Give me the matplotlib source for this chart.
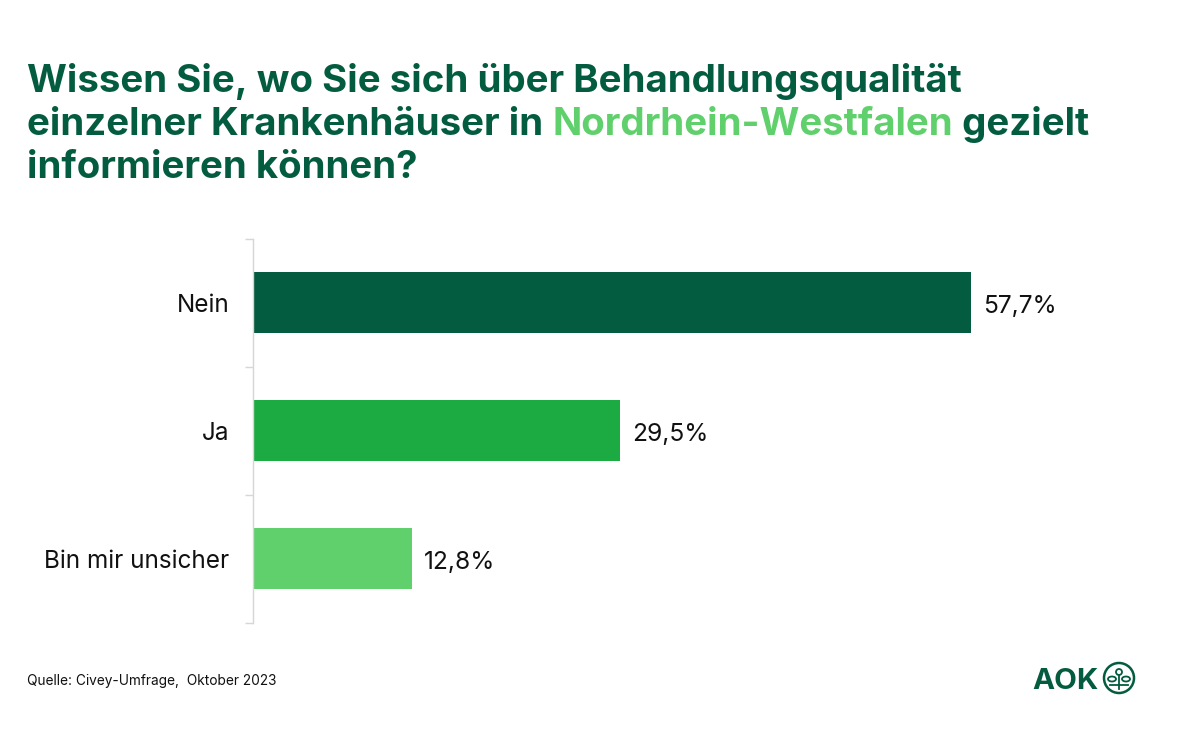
import matplotlib
matplotlib.use("Agg")
import matplotlib.pyplot as plt
from matplotlib.patches import Circle, Ellipse

categories = ["Nein", "Ja", "Bin mir unsicher"]
values = [57.7, 29.5, 12.8]
value_labels = ["57,7%", "29,5%", "12,8%"]
bar_colors = ["#035c3f", "#1cab42", "#5fd06b"]
dark = "#035c3f"
light = "#5fd06b"
title_lines = [
    [("Wissen Sie, wo Sie sich über Behandlungsqualität", dark)],
    [("einzelner Krankenhäuser in ", dark), ("Nordrhein-Westfalen", light), (" gezielt", dark)],
    [("informieren können?", dark)],
]
source = "Quelle: Civey-Umfrage,  Oktober 2023"

plt.rcParams["font.family"] = ["Inter", "DejaVu Sans"]
W, H = 1200, 749
fig = plt.figure(figsize=(W / 100, H / 100), dpi=100)

ax = fig.add_axes([253 / W, 1 - 622.5 / H, 720 / W, 384 / H])
ax.barh(range(len(categories)), values, height=0.47, color=bar_colors)
ax.set_ylim(len(categories) - 0.5, -0.5)
ax.set_xlim(0, 720 / 12.44)
for i, v in enumerate(values):
    ax.annotate(value_labels[i], (v, i), xytext=(12, -4), textcoords="offset pixels",
                va="center", ha="left", fontsize=17.7, color="#111111")
for s in ["top", "right", "bottom"]:
    ax.spines[s].set_visible(False)
ax.spines["left"].set_color("#d6d6d6")
ax.spines["left"].set_linewidth(1)
ax.set_xticks([])
ax.set_yticks(range(len(categories)))
ax.set_yticklabels(categories, fontsize=17.5, color="#111111")
ax.tick_params(axis="y", which="major", length=0, pad=17)
ax.set_yticks([i - 0.5 for i in range(len(categories) + 1)], minor=True)
ax.tick_params(axis="y", which="minor", length=6, color="#d6d6d6", width=1)

# overlay in pixel coordinates for title, source and logo
ov = fig.add_axes([0, 0, 1, 1])
ov.set_xlim(0, W)
ov.set_ylim(H, 0)
ov.axis("off")
ov.patch.set_alpha(0)

renderer = fig.canvas.get_renderer()
baselines = [92, 135, 178]
for parts, y in zip(title_lines, baselines):
    x = 27
    for txt, col in parts:
        t = ov.text(x, y, txt, fontsize=27.7, fontweight="bold", color=col, va="baseline", ha="left")
        x += t.get_window_extent(renderer).width

ov.text(27, 685, source, fontsize=9.85, color="#111111", va="baseline", ha="left")

# logo
ov.text(1032, 689, "AOK", fontsize=21.3, fontweight="bold", color=dark, va="baseline", ha="left")
ov.add_patch(Circle((1119, 678), 15, fill=False, ec=dark, lw=1.8))
ov.add_patch(Circle((1119, 672), 3, fill=False, ec=dark, lw=1.3))
ov.add_patch(Ellipse((1112, 679), 8, 5, fill=False, ec=dark, lw=1.3))
ov.add_patch(Ellipse((1126, 679), 8, 5, fill=False, ec=dark, lw=1.3))
ov.plot([1119, 1119], [675, 689], color=dark, lw=1.3)
ov.plot([1110, 1128], [685, 685], color=dark, lw=1.3)

fig.savefig("out.png", dpi=100)
